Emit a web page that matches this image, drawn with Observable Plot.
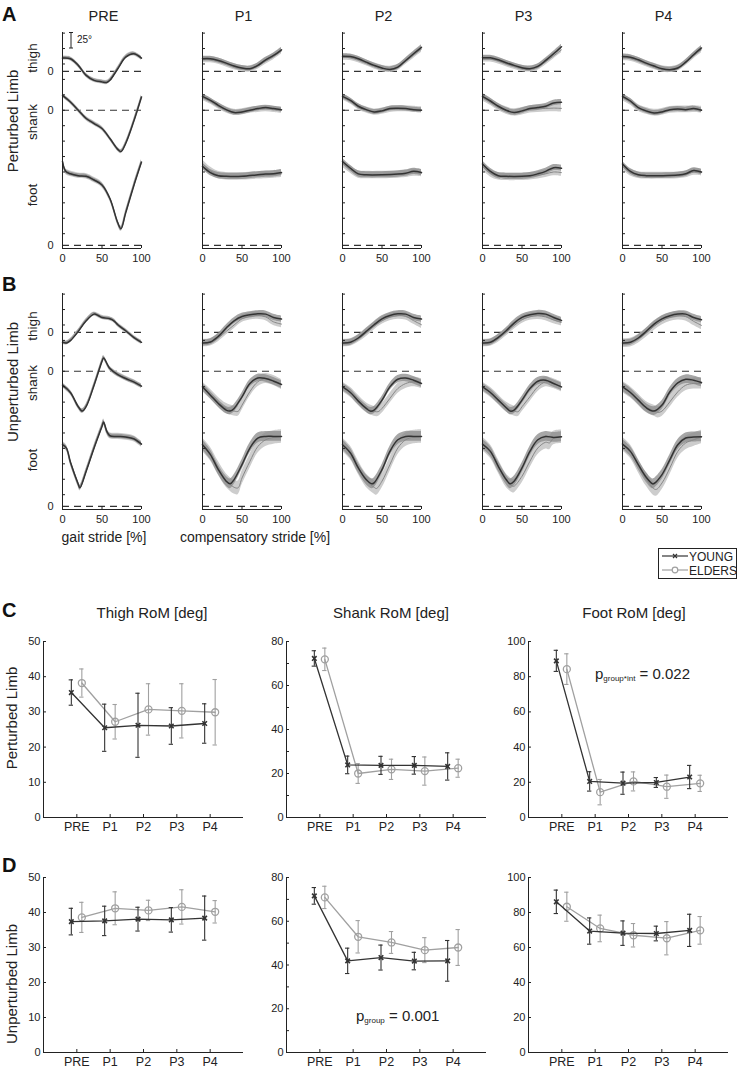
<!DOCTYPE html>
<html><head><meta charset="utf-8">
<script src="https://cdn.jsdelivr.net/npm/d3@7"></script>
<script src="https://cdn.jsdelivr.net/npm/@observablehq/plot@0.6"></script>
<style>
body{margin:0;background:#fff;}
#fig{position:relative;width:738px;height:1073px;overflow:hidden;font-family:"Liberation Sans",Arial,Helvetica,sans-serif;color:#222;}
</style></head><body><div id="fig"></div>
<script>
// ---------------- DATA ----------------
const columns = ["PRE", "P1", "P2", "P3", "P4"];
const segments = ["thigh", "shank", "foot"];
const groupNames = ["YOUNG", "ELDERS"];
const strideTicks = [0, 50, 100];

// Panel A (perturbed limb): [stride %, angle °] per column PRE, P1..P4
const A_young_thigh = [
 [[0,21.5],[10,20.4],[20,9.7],[30,-6.5],[40,-14.5],[50,-17],[56,-18],[60,-14.5],[70,4.3],[80,23],[90,28.5],[100,21.5]],
 [[0,20.5],[10,20.5],[20,17.7],[30,13.4],[40,8.6],[50,5.4],[60,4.3],[70,9.7],[80,18.8],[90,25.8],[100,35]],
 [[0,24.7],[10,24],[20,20.5],[30,15],[40,9.7],[50,5.4],[60,3.2],[70,7],[80,17.7],[90,28.5],[100,39]],
 [[0,22],[10,22],[20,18.8],[30,14],[40,9.7],[50,6],[60,4.3],[70,8],[80,17.7],[90,28.5],[100,40]],
 [[0,24],[10,23],[20,18.8],[30,13.4],[40,8.6],[50,4.3],[60,2.7],[70,5.4],[80,15],[90,27],[100,38]]
];
const A_elder_thigh = [
 A_young_thigh[0],
 [[0,19],[10,19],[20,16.5],[30,12],[40,7.5],[50,4.5],[60,4],[70,8.5],[80,16.5],[90,24],[100,33]],
 [[0,23],[10,22.5],[20,19],[30,14],[40,9],[50,5],[60,3.5],[70,6.5],[80,16],[90,26],[100,36]],
 [[0,20],[10,20],[20,17],[30,12.5],[40,8.5],[50,5],[60,4],[70,7],[80,15.5],[90,25],[100,35]],
 [[0,22],[10,21.5],[20,17.5],[30,12.5],[40,8],[50,4],[60,3],[70,5.5],[80,14],[90,25],[100,35]]
];
const A_young_shank = [
 [[0,24],[10,13.4],[20,0],[30,-13.4],[40,-21.5],[50,-29.6],[60,-45.7],[70,-63.4],[74,-67],[80,-53.8],[90,-18.8],[100,21.5]],
 [[0,22.6],[10,16],[20,8],[30,1],[40,-3.7],[50,-2.7],[60,0],[70,2.7],[80,4.3],[90,2.7],[100,1]],
 [[0,22.6],[10,16],[20,6.5],[30,1],[40,-2.7],[50,-1],[60,2.7],[70,3.2],[80,2.7],[90,1],[100,0]],
 [[0,22.6],[10,15],[20,6.5],[30,0],[40,-3.7],[50,-1],[60,2.7],[70,4.3],[80,6.5],[90,11.8],[100,12.9]],
 [[0,22.6],[10,15],[20,4.3],[30,-1],[40,-4.3],[50,-2.7],[60,1],[70,2],[80,1],[90,2.7],[100,0]]
];
const A_elder_shank = [
 A_young_shank[0],
 [[0,21],[10,15],[20,7],[30,0.5],[40,-3.5],[50,-2.5],[60,0],[70,1.5],[80,2.5],[90,1.5],[100,0]],
 [[0,21.5],[10,15],[20,6],[30,0.5],[40,-3],[50,-1.5],[60,1.5],[70,2.5],[80,2.5],[90,1.5],[100,0.5]],
 [[0,21],[10,14],[20,5.5],[30,-0.5],[40,-3.5],[50,-1.5],[60,1.5],[70,2.5],[80,3],[90,3.5],[100,3]],
 [[0,21],[10,14],[20,4],[30,-1],[40,-4],[50,-2.5],[60,0.5],[70,1.5],[80,1.5],[90,2],[100,1]]
];
const A_young_foot = [
 [[0,136],[4,120],[10,116],[20,113],[30,112],[40,106],[50,98],[60,76],[70,36.6],[74,27],[80,52.7],[90,95.6],[100,135]],
 [[0,128],[10,118],[20,113],[30,112],[50,112],[70,114.5],[80,115.6],[90,116],[100,118]],
 [[0,136],[10,125],[20,116],[30,114.5],[50,114.5],[70,115.6],[80,117],[90,120],[100,118]],
 [[0,132],[10,120],[20,113],[30,112],[50,112],[60,113],[70,116],[80,120],[90,126],[100,125]],
 [[0,132],[10,120],[20,114.5],[30,113],[50,113],[70,114],[80,116],[90,121.5],[100,119]]
];
const A_elder_foot = [
 A_young_foot[0],
 [[0,133],[10,121],[20,114],[30,112],[50,112],[70,113.5],[80,114],[90,115],[100,116]],
 [[0,133],[10,123],[20,115],[30,114],[50,114],[70,115],[80,116],[90,118],[100,117]],
 [[0,128],[10,117],[20,112],[30,111],[50,111],[60,112],[70,113.5],[80,116],[90,119],[100,118]],
 [[0,128],[10,118],[20,114],[30,113],[50,113],[70,113.5],[80,115],[90,119],[100,118]]
];

// Panel B (unperturbed limb)
const B_young_thigh = [
 [[0,-16.1],[5,-17.2],[10,-13.4],[20,1.6],[30,18.8],[40,29.6],[45,27.4],[50,24.2],[60,22],[65,18.8],[70,12.4],[80,2.7],[90,-8],[100,-16.1]],
 [[0,-17.2],[10,-15.6],[20,-6.5],[30,7],[40,18.8],[50,25.8],[60,28.5],[70,30.1],[80,29.6],[90,24.2],[100,21.5]],
 [[0,-17.2],[10,-16.1],[20,-9.1],[30,1.6],[40,12.4],[50,22],[60,27.4],[70,30.1],[80,29.6],[90,24.2],[100,21.5]],
 [[0,-17.2],[10,-16.1],[20,-8],[30,2.7],[40,15],[50,24.2],[60,28.5],[70,30.6],[80,29.6],[90,24.2],[100,19.4]],
 [[0,-17.2],[10,-16.1],[20,-9.1],[30,1.6],[40,13.4],[50,22],[60,26.9],[70,29.6],[80,29.6],[90,24.2],[100,20.4]]
];
const B_elder_thigh = [
 B_young_thigh[0],
 [[0,-17.5],[10,-16],[20,-9],[30,1.6],[40,12],[50,22],[60,26],[70,27.4],[80,25],[90,17],[100,13.4]],
 [[0,-17.5],[10,-16.5],[20,-10],[30,-1],[40,10],[50,19],[60,25],[70,27.4],[80,26],[90,19],[100,12.4]],
 [[0,-17.5],[10,-16.5],[20,-10],[30,0],[40,11],[50,20.4],[60,25.5],[70,26.9],[80,25],[90,20],[100,16.6]],
 [[0,-17.5],[10,-16.5],[20,-10.5],[30,-1],[40,10],[50,19],[60,24.5],[70,27],[80,25.5],[90,18],[100,11.3]]
];
const B_young_shank = [
 [[0,-22.6],[10,-34.4],[20,-57.5],[25,-64.5],[30,-57],[40,-22.6],[50,16],[52,21.5],[60,4.3],[70,-5.4],[80,-11.8],[90,-17.2],[100,-24.2]],
 [[0,-25.3],[10,-38.7],[20,-52.2],[30,-62.9],[35,-64.5],[40,-60.2],[50,-41.4],[60,-19.9],[70,-10.8],[80,-11.8],[90,-16.1],[100,-21.5]],
 [[0,-25.3],[10,-34.4],[20,-48.4],[30,-60.2],[35,-64.5],[40,-62.9],[50,-46.8],[60,-25.3],[70,-12.9],[80,-10.8],[90,-14.5],[100,-19.9]],
 [[0,-25.3],[10,-34.4],[20,-46.8],[30,-59.1],[35,-64.5],[40,-62.9],[50,-46.8],[60,-28],[70,-16.1],[80,-14.5],[90,-19.9],[100,-25.3]],
 [[0,-25.3],[10,-34.4],[20,-46.8],[30,-59.1],[40,-64.5],[50,-54.8],[60,-33.3],[70,-18.8],[80,-12.9],[90,-14.5],[100,-18.3]]
];
const B_elder_shank = [
 B_young_shank[0],
 [[0,-25.3],[10,-37],[20,-50],[30,-60],[40,-64.5],[45,-65],[50,-55],[60,-33],[70,-17],[80,-11.8],[90,-15],[100,-21.5]],
 [[0,-25.3],[10,-34],[20,-47],[30,-59],[40,-65],[45,-65.5],[50,-60.2],[60,-44],[70,-28],[80,-19.9],[90,-17.2],[100,-19.9]],
 [[0,-25.3],[10,-34],[20,-46],[30,-58],[40,-64.5],[45,-65.5],[50,-57.5],[60,-41.4],[70,-25.3],[80,-17.2],[90,-20],[100,-25.3]],
 [[0,-25.3],[10,-34],[20,-46],[30,-58],[40,-64],[45,-66.6],[50,-64.5],[60,-49.5],[70,-33.3],[80,-22.6],[90,-19.9],[100,-19.9]]
];
const B_young_foot = [
 [[0,100],[5,94.6],[10,72],[20,36],[22,30.1],[30,57],[40,94.6],[50,129.6],[52,136.6],[56,122],[60,114.5],[70,113.4],[80,112.4],[90,109.7],[100,101]],
 [[0,100],[10,83.9],[20,59.7],[30,40.9],[35,36.6],[40,43.5],[50,67.7],[60,94.6],[70,110.8],[80,113.4],[90,113.4],[100,113.4]],
 [[0,100],[10,86.6],[20,62.4],[30,43.5],[37,36.6],[40,38.2],[50,59.7],[60,89.2],[70,108],[80,113.4],[90,113.4],[100,113.4]],
 [[0,101],[10,89.2],[20,65],[30,43.5],[35,36.6],[40,40.9],[50,62.4],[60,89.2],[70,108],[80,113.4],[90,111.8],[100,112.9]],
 [[0,101],[10,89.2],[20,67.7],[30,47.3],[38,36.6],[40,37.1],[50,51.6],[60,75.8],[70,100],[80,110.8],[90,112.4],[100,112.9]]
];
const B_elder_foot = [
 B_young_foot[0],
 [[0,100],[10,85],[20,62],[30,42],[40,31],[45,30.1],[50,46],[60,73],[70,97],[80,108],[90,111.8],[100,113.4]],
 [[0,100],[10,87],[20,63],[30,42],[40,31],[43,29],[50,40.9],[60,67.7],[70,94.6],[80,108],[90,112.4],[100,113.4]],
 [[0,101],[10,89],[20,65],[30,42],[38,33],[40,32.8],[50,48.9],[60,73.1],[70,94.6],[80,104],[85,103],[90,110.8],[100,112.9]],
 [[0,101],[10,89],[20,66],[30,44],[42,27.4],[50,38],[60,62.4],[70,89.2],[80,102.7],[90,108],[100,112.4]]
];

// band half-widths (SD) per column: [thigh, shank, foot]
const A_young_sd = [[2.5,2.5,3],[4,4,5],[4,4,5],[4,4.5,5],[4,4,4.5]];
const A_elder_sd = [[3.5,3.5,4.5],[5,5,6],[5,5,6],[5,6,6],[5,5.5,5.5]];
const B_young_sd = [[2.5,3,3.5],[5,6,8],[5,6,8],[5,6,8],[5,7,8]];
const B_elder_sd = [[3.5,4,5],[6,8,11],[6,8,11],[6,8,11],[7,9,11]];

// Range of motion (deg): mean and SD per column PRE, P1..P4
const C_thigh_young = [35.5,25.5,26.2,26.0,26.7], C_thigh_young_sd = [3.6,6.7,9.1,5.2,5.6];
const C_thigh_elder = [38.2,27.2,30.7,30.3,29.9], C_thigh_elder_sd = [4.0,4.9,7.3,7.7,9.3];
const C_shank_young = [72.3,23.9,23.7,23.7,23.2], C_shank_young_sd = [3.5,4.0,4.1,4.0,6.2];
const C_shank_elder = [71.9,20.0,21.9,21.1,22.4], C_shank_elder_sd = [5.1,4.5,4.6,6.4,4.1];
const C_foot_young = [89.0,20.5,19.5,19.9,23.0], C_foot_young_sd = [6.0,5.5,6.3,2.8,6.6];
const C_foot_elder = [84.3,14.4,20.5,17.5,19.4], C_foot_elder_sd = [8.7,7.2,5.4,6.6,4.6];
const D_thigh_young = [37.4,37.6,38.1,37.9,38.4], D_thigh_young_sd = [3.8,4.2,3.4,3.5,6.3];
const D_thigh_elder = [38.6,41.2,40.6,41.6,40.2], D_thigh_elder_sd = [4.3,4.7,2.9,4.9,3.2];
const D_shank_young = [71.6,41.9,43.4,41.8,41.9], D_shank_young_sd = [3.8,5.8,5.7,4.0,9.3];
const D_shank_elder = [70.9,52.9,50.3,46.8,48.0], D_shank_elder_sd = [5.1,7.4,5.0,5.7,8.2];
const D_foot_young = [86.1,69.4,68.2,68.0,69.8], D_foot_young_sd = [6.7,7.5,7.0,4.2,9.2];
const D_foot_elder = [83.3,70.9,67.0,65.3,69.8], D_foot_elder_sd = [8.3,7.6,6.7,9.5,7.9];

// ---------------- LAYOUT / STYLE ----------------
const FONT = '"Liberation Sans", Arial, Helvetica, sans-serif';
const INK = "#222222";
const YC = "#333333", EC = "#a0a0a0";
const fig = document.getElementById("fig");
const segOffset = {thigh: 282, shank: 219, foot: 0};

function put(node, left, top) {
  const w = document.createElement("div");
  w.style.cssText = `position:absolute;left:${left}px;top:${top}px;`;
  w.appendChild(node);
  fig.appendChild(w);
}
function label(html, x, y, {size = 14, weight = "normal", rotate = 0, anchor = "middle", color = INK} = {}) {
  const d = document.createElement("div");
  d.innerHTML = html;
  d.style.cssText = `position:absolute;left:${x}px;top:${y}px;font-size:${size}px;font-weight:${weight};line-height:1;white-space:nowrap;color:${color};`;
  const tx = anchor === "middle" ? "-50%" : anchor === "end" ? "-100%" : "0";
  d.style.transform = `translate(${tx},-50%)` + (rotate ? ` rotate(${rotate}deg)` : "");
  fig.appendChild(d);
}

// ---------------- GAIT CURVE PANELS (A, B) ----------------
const GW = 79, GH = 216;
const gaitColX = [62, 202, 342, 482, 622];
function gaitRows(curves, sd, ci) {
  const out = [];
  segments.forEach((s, si) => {
    const off = segOffset[s], w = sd[ci][si];
    for (const [p, v] of curves[si][ci]) out.push({seg: s, pct: p, y: v + off, lo: v - w + off, hi: v + w + off});
  });
  return out;
}
function gaitPlot(young, elder, ysd, esd, ci, top) {
  const Y = gaitRows(young, ysd, ci), E = gaitRows(elder, esd, ci);
  const ML = 30, MR = 6, MT = 4, MB = 24;
  const yTicks = d3.range(19, 346, 25);
  const zeros = segments.map(s => segOffset[s]);
  const svg = Plot.plot({
    width: GW + ML + MR, height: GH + MT + MB,
    marginLeft: ML, marginRight: MR, marginTop: MT, marginBottom: MB,
    style: {background: "transparent", fontFamily: FONT, fontSize: "11px", color: INK, overflow: "visible"},
    x: {domain: [0, 100], axis: null},
    y: {domain: [-5, 345], axis: null},
    marks: [
      Plot.ruleY(zeros, {stroke: "#333", strokeDasharray: "7,5", strokeWidth: 1.1}),
      Plot.areaY(E, {x: "pct", y1: "lo", y2: "hi", z: "seg", fill: "#cdcdcd", curve: "catmull-rom"}),
      Plot.areaY(Y, {x: "pct", y1: "lo", y2: "hi", z: "seg", fill: "#8a8a8a", fillOpacity: 0.75, curve: "catmull-rom"}),
      Plot.line(E, {x: "pct", y: "y", z: "seg", stroke: "#888", strokeWidth: 1, curve: "catmull-rom"}),
      Plot.line(Y, {x: "pct", y: "y", z: "seg", stroke: YC, strokeWidth: 1.5, curve: "catmull-rom"}),
      Plot.ruleX([0], {stroke: INK}),
      Plot.ruleY([-5], {stroke: INK}),
      Plot.tickY(yTicks, {stroke: INK, insetRight: GW - 3}),
      Plot.tickX(strideTicks, {stroke: INK, insetTop: GH - 3}),
      Plot.text(strideTicks, {x: d => d, frameAnchor: "bottom", dy: 13, text: d => String(d), fill: INK}),
      ci === 0 ? Plot.text(zeros, {y: d => d, frameAnchor: "left", dx: -9, textAnchor: "end", text: () => "0", fill: INK}) : null
    ]
  });
  put(svg, gaitColX[ci] - ML, top - MT);
}
const A_young = [A_young_thigh, A_young_shank, A_young_foot];
const A_elder = [A_elder_thigh, A_elder_shank, A_elder_foot];
const B_young = [B_young_thigh, B_young_shank, B_young_foot];
const B_elder = [B_elder_thigh, B_elder_shank, B_elder_foot];
columns.forEach((c, ci) => {
  gaitPlot(A_young, A_elder, A_young_sd, A_elder_sd, ci, 32);
  gaitPlot(B_young, B_elder, B_young_sd, B_elder_sd, ci, 293);
  label(c, gaitColX[ci] + GW / 2 + 2, 16, {size: 14.5});
});

// ---------------- RANGE OF MOTION PANELS (C, D) ----------------
const RW = 200;
const romColX = [43, 286, 528];
function romPlot(ym, ysd, em, esd, ymax, labelStep, tickStep, ci, top, RH) {
  const Y = ym.map((m, i) => ({x: i + 1, m, lo: m - ysd[i], hi: m + ysd[i]}));
  const E = em.map((m, i) => ({x: i + 1, m, lo: m - esd[i], hi: m + esd[i]}));
  const ML = 28, MR = 6, MT = 6, MB = 24;
  const cap = 0.065;
  const dY = -5.5, dE = 5;
  const svg = Plot.plot({
    width: RW + ML + MR, height: RH + MT + MB,
    marginLeft: ML, marginRight: MR, marginTop: MT, marginBottom: MB,
    style: {background: "transparent", fontFamily: FONT, fontSize: "11px", color: INK, overflow: "visible"},
    x: {domain: [0, 6], axis: null},
    y: {domain: [0, ymax], axis: null},
    marks: [
      Plot.ruleX([0], {stroke: INK}),
      Plot.ruleY([0], {stroke: INK}),
      Plot.tickY(d3.range(0, ymax + 0.1, tickStep), {stroke: INK, insetRight: RW - 3}),
      Plot.text(d3.range(0, ymax + 0.1, labelStep), {y: d => d, frameAnchor: "left", dx: -3, textAnchor: "end", text: d => String(d), fill: INK}),
      Plot.tickX(d3.range(1, 6), {stroke: INK, insetTop: RH - 3}),
      Plot.text(columns, {x: (d, i) => i + 1, frameAnchor: "bottom", dy: 13.5, text: d => d, fontSize: 12.5, fill: INK}),
      // elders
      Plot.ruleX(E, {x: "x", y1: "lo", y2: "hi", dx: dE, stroke: EC, strokeWidth: 1.1}),
      Plot.ruleY(E, {x1: d => d.x - cap, x2: d => d.x + cap, y: "lo", dx: dE, stroke: EC, strokeWidth: 1.1}),
      Plot.ruleY(E, {x1: d => d.x - cap, x2: d => d.x + cap, y: "hi", dx: dE, stroke: EC, strokeWidth: 1.1}),
      Plot.line(E, {x: "x", y: "m", dx: dE, stroke: EC, strokeWidth: 1.3}),
      Plot.dot(E, {x: "x", y: "m", dx: dE, symbol: "circle", r: 3.5, stroke: EC, fill: "none", strokeWidth: 1.3}),
      // young
      Plot.ruleX(Y, {x: "x", y1: "lo", y2: "hi", dx: dY, stroke: YC, strokeWidth: 1.1}),
      Plot.ruleY(Y, {x1: d => d.x - cap, x2: d => d.x + cap, y: "lo", dx: dY, stroke: YC, strokeWidth: 1.1}),
      Plot.ruleY(Y, {x1: d => d.x - cap, x2: d => d.x + cap, y: "hi", dx: dY, stroke: YC, strokeWidth: 1.1}),
      Plot.line(Y, {x: "x", y: "m", dx: dY, stroke: YC, strokeWidth: 1.3}),
      Plot.dot(Y, {x: "x", y: "m", dx: dY, symbol: "times", r: 2.2, stroke: YC, strokeWidth: 1.6})
    ]
  });
  put(svg, romColX[ci] - ML, top - MT);
}
romPlot(C_thigh_young, C_thigh_young_sd, C_thigh_elder, C_thigh_elder_sd, 50, 10, 10, 0, 641, 176);
romPlot(C_shank_young, C_shank_young_sd, C_shank_elder, C_shank_elder_sd, 80, 20, 10, 1, 641, 176);
romPlot(C_foot_young, C_foot_young_sd, C_foot_elder, C_foot_elder_sd, 100, 20, 20, 2, 641, 176);
romPlot(D_thigh_young, D_thigh_young_sd, D_thigh_elder, D_thigh_elder_sd, 50, 10, 10, 0, 877, 175);
romPlot(D_shank_young, D_shank_young_sd, D_shank_elder, D_shank_elder_sd, 80, 20, 10, 1, 877, 175);
romPlot(D_foot_young, D_foot_young_sd, D_foot_elder, D_foot_elder_sd, 100, 20, 20, 2, 877, 175);

// ---------------- TEXT ----------------
label("A", 2, 14, {size: 20, weight: "bold", anchor: "start", color: "#111"});
label("B", 2, 284, {size: 20, weight: "bold", anchor: "start", color: "#111"});
label("C", 2, 610, {size: 20, weight: "bold", anchor: "start", color: "#111"});
label("D", 2, 865, {size: 20, weight: "bold", anchor: "start", color: "#111"});

label("Perturbed Limb", 12, 121, {size: 15, rotate: -90});
label("Unperturbed Limb", 12, 382, {size: 15, rotate: -90});
label("thigh", 33, 58, {size: 13.5, rotate: -90});
label("shank", 33, 122, {size: 13.5, rotate: -90});
label("foot", 33, 195, {size: 13.5, rotate: -90});
label("thigh", 33, 326, {size: 13.5, rotate: -90});
label("shank", 33, 383, {size: 13.5, rotate: -90});
label("foot", 33, 460, {size: 13.5, rotate: -90});
label("gait stride [%]", 104, 537, {size: 14});
label("compensatory stride [%]", 255, 537, {size: 14});

// 25° scale bar
(function () {
  const ns = "http://www.w3.org/2000/svg";
  const s = document.createElementNS(ns, "svg");
  s.setAttribute("width", 8); s.setAttribute("height", 20);
  s.innerHTML = `<path d="M2,1.5H6M4,1.5V17M2,17H6" stroke="${INK}" stroke-width="1" fill="none"/>`;
  put(s, 67, 31);
})();
label("25°", 77, 40, {size: 10, anchor: "start"});

label("Thigh RoM [deg]", 152, 612, {size: 15});
label("Shank RoM [deg]", 391, 612, {size: 15});
label("Foot RoM [deg]", 634, 612, {size: 15});
label("Perturbed Limb", 11, 718, {size: 15, rotate: -90});
label("Unperturbed Limb", 11, 984, {size: 15, rotate: -90});

label('p<span style="font-size:8px;position:relative;top:2px">group*int</span> = 0.022', 595, 673, {size: 15, anchor: "start"});
label('p<span style="font-size:8px;position:relative;top:2px">group</span> = 0.001', 356, 1015, {size: 15, anchor: "start"});

// legend
(function () {
  const ns = "http://www.w3.org/2000/svg";
  const s = document.createElementNS(ns, "svg");
  s.setAttribute("width", 80); s.setAttribute("height", 32);
  s.innerHTML = `
    <rect x="0.5" y="0.5" width="78" height="30" fill="#fff" stroke="${INK}"/>
    <line x1="4" x2="30" y1="8" y2="8" stroke="${YC}" stroke-width="1.2"/>
    <path d="M15,6L19,10M19,6L15,10" stroke="${YC}" stroke-width="1.2"/>
    <text x="31" y="12.5" font-size="12" fill="${INK}" font-family='${FONT}'>${groupNames[0]}</text>
    <line x1="4" x2="30" y1="22" y2="22" stroke="${EC}" stroke-width="1.2"/>
    <circle cx="17" cy="22" r="2.8" fill="#fff" stroke="${EC}" stroke-width="1.2"/>
    <text x="31" y="26.5" font-size="12" fill="${INK}" font-family='${FONT}'>${groupNames[1]}</text>`;
  put(s, 658, 548);
})();
</script></body></html>
